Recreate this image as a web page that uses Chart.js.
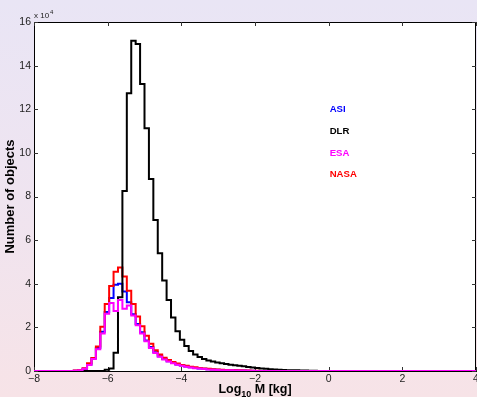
<!DOCTYPE html>
<html>
<head>
<meta charset="utf-8">
<script src="https://cdn.jsdelivr.net/npm/chart.js@4.4.1/dist/chart.umd.min.js"></script>
<style>
  html, body { margin: 0; padding: 0; }
  body {
    width: 477px;
    height: 397px;
    overflow: hidden;
    background: linear-gradient(to bottom, #e9e5f5 0%, #efe4f0 50%, #f7e3e7 100%);
  }
  canvas { display: block; }
</style>
</head>
<body>
<canvas id="massChart" width="477" height="397"></canvas>
<script>
// histogram binning in log10(mass)
const BIN_START = -8;
const BIN_WIDTH = 0.12;
const BIN_COUNT = 100;

const xTicks = [-8, -6, -4, -2, 0, 2, 4];
const yTicks = [0, 20000, 40000, 60000, 80000, 100000, 120000, 140000, 160000];

const agencies = ['ASI', 'DLR', 'ESA', 'NASA'];
const agencyColors = ['#0000ff', '#000000', '#ff00ff', '#ff0000'];

// object counts per bin, starting at bin index *First
const asiFirst = 9;
const asiCounts = [100, 300, 1000, 3000, 5800, 10500, 18000, 27000, 33500, 39500, 40000, 36500,
  31500, 26000, 21500, 17800, 14000, 11000, 8600, 6800, 5500, 4500, 3700, 3000, 2500, 2100,
  1700, 1400, 1200, 1000, 800, 700, 600, 500, 400, 300, 300, 200, 200, 100, 100];

const dlrFirst = 16;
const dlrCounts = [600, 1200, 8400, 33800, 82500, 127300, 151400, 149900, 131600, 111300, 88000,
  69200, 54000, 41500, 32500, 24500, 18200, 14300, 11500, 9200, 7600, 6400, 5500, 4800, 4300,
  3900, 3600, 3200, 2900, 2600, 2400, 2200, 1800, 1600, 1400, 1200, 1000, 800, 700, 600, 500,
  400, 300, 300, 200, 200, 100, 100];

const esaFirst = 9;
const esaCounts = [100, 300, 1000, 2800, 5500, 10000, 17200, 26200, 31200, 27500, 32500, 28500,
  30000, 25500, 21000, 17200, 13600, 10500, 8200, 6500, 5300, 4300, 3500, 2900, 2400, 2000,
  1600, 1300, 1100, 900, 700, 600, 500, 400, 300, 300, 200, 200, 100, 100];

const nasaFirst = 9;
const nasaCounts = [200, 500, 1300, 3500, 6000, 11200, 20300, 30700, 39000, 45500, 47400, 43300,
  36800, 30700, 25000, 20500, 16200, 12500, 9500, 7600, 6100, 5000, 4100, 3400, 2800, 2400,
  2000, 1700, 1400, 1200, 1000, 800, 700, 600, 500, 400, 300, 300, 200, 200, 100, 100];

const FONT = "'Liberation Sans', Arial, Helvetica, sans-serif";

// left bin edges with counts, plus the closing right edge, for a stepped outline
function binSeries(first, counts) {
  const points = [];
  for (let k = 0; k <= BIN_COUNT; k++) {
    const idx = Math.min(k, BIN_COUNT - 1) - first;
    const y = idx >= 0 && idx < counts.length ? counts[idx] : 0;
    points.push({ x: +(BIN_START + k * BIN_WIDTH).toFixed(2), y: y });
  }
  return points;
}

function makeDataset(i, points, order) {
  return {
    label: agencies[i],
    data: points,
    borderColor: agencyColors[i],
    borderWidth: 2,
    stepped: 'before',
    pointRadius: 0,
    fill: false,
    order: order
  };
}

const plotBackground = {
  id: 'plotBackground',
  beforeDraw(chart) {
    const { ctx, chartArea: a } = chart;
    ctx.save();
    ctx.fillStyle = '#ffffff';
    ctx.fillRect(a.left, a.top, a.right - a.left, a.bottom - a.top);
    ctx.restore();
  }
};

// top/right frame lines and inward tick marks on all four sides
const axesBox = {
  id: 'axesBox',
  beforeDatasetsDraw(chart) {
    const { ctx, chartArea: a, scales } = chart;
    const len = 4;
    ctx.save();
    ctx.strokeStyle = '#000000';
    ctx.lineWidth = 1;
    ctx.beginPath();
    ctx.moveTo(a.left, a.top + 0.5);
    ctx.lineTo(a.right - 0.5, a.top + 0.5);
    ctx.lineTo(a.right - 0.5, a.bottom);
    ctx.stroke();

    ctx.strokeStyle = '#333333';
    ctx.beginPath();
    xTicks.forEach(v => {
      const px = Math.round(scales.x.getPixelForValue(v)) + 0.5;
      ctx.moveTo(px, a.bottom);
      ctx.lineTo(px, a.bottom - len);
      ctx.moveTo(px, a.top);
      ctx.lineTo(px, a.top + len);
    });
    yTicks.forEach(v => {
      const py = Math.round(scales.y.getPixelForValue(v)) + 0.5;
      ctx.moveTo(a.left, py);
      ctx.lineTo(a.left + len, py);
      ctx.moveTo(a.right, py);
      ctx.lineTo(a.right - len, py);
    });
    ctx.stroke();
    ctx.restore();
  }
};

// x title with subscript, y multiplier and the text-only legend
const textOverlay = {
  id: 'textOverlay',
  afterDraw(chart) {
    const { ctx, chartArea: a, scales } = chart;
    ctx.save();
    ctx.fillStyle = '#000000';
    ctx.textBaseline = 'alphabetic';
    ctx.textAlign = 'left';

    const mainFont = 'bold 12.5px ' + FONT;
    const subFont = 'bold 9px ' + FONT;
    ctx.font = mainFont;
    const wLog = ctx.measureText('Log').width;
    const wRest = ctx.measureText(' M [kg]').width;
    ctx.font = subFont;
    const wSub = ctx.measureText('10').width;
    let x = (a.left + a.right) / 2 - (wLog + wSub + wRest) / 2;
    const base = 393;
    ctx.font = mainFont;
    ctx.fillText('Log', x, base);
    x += wLog;
    ctx.font = subFont;
    ctx.fillText('10', x, base + 4);
    x += wSub;
    ctx.font = mainFont;
    ctx.fillText(' M [kg]', x, base);

    ctx.fillStyle = '#222222';
    ctx.font = '8px ' + FONT;
    ctx.fillText('x 10', a.left, 18);
    const wx = ctx.measureText('x 10').width;
    ctx.font = '6px ' + FONT;
    ctx.fillText('4', a.left + wx + 1, 14);

    ctx.font = 'bold 9.6px ' + FONT;
    ctx.textBaseline = 'middle';
    const lx = scales.x.getPixelForValue(0) + 1;
    const legendRows = [120000, 110000, 100000, 90000];
    agencies.forEach((name, i) => {
      ctx.fillStyle = agencyColors[i];
      ctx.fillText(name, lx, scales.y.getPixelForValue(legendRows[i]));
    });
    ctx.restore();
  }
};

function createChart() {
  const datasets = [
    makeDataset(0, binSeries(asiFirst, asiCounts), 3),
    makeDataset(1, binSeries(dlrFirst, dlrCounts), 1),
    makeDataset(2, binSeries(esaFirst, esaCounts), 0),
    makeDataset(3, binSeries(nasaFirst, nasaCounts), 2)
  ];

  const config = {
    type: 'line',
    data: { datasets: datasets },
    options: {
      responsive: false,
      animation: false,
      devicePixelRatio: 1,
      layout: { padding: { top: 22, right: 1, left: 0, bottom: 0 } },
      scales: {
        x: {
          type: 'linear',
          min: -8,
          max: 4,
          afterBuildTicks: (s) => { s.ticks = xTicks.map(v => ({ value: v })); },
          afterFit: (s) => { s.height = 26; s.paddingLeft = 0; s.paddingRight = 0; },
          grid: { display: false, drawTicks: false },
          border: { display: true, color: '#000000', width: 1 },
          ticks: {
            padding: 2,
            color: '#222222',
            font: { family: FONT, size: 10.5 },
            maxRotation: 0,
            autoSkip: false,
            callback: v => (v < 0 ? '\u2212' + Math.abs(v) : String(v))
          }
        },
        y: {
          min: 0,
          max: 160000,
          afterBuildTicks: (s) => { s.ticks = yTicks.map(v => ({ value: v })); },
          afterFit: (s) => { s.width = 34; s.paddingTop = 0; s.paddingBottom = 0; },
          grid: { display: false, drawTicks: false },
          border: { display: true, color: '#000000', width: 1 },
          ticks: {
            padding: 3,
            color: '#222222',
            font: { family: FONT, size: 10.5 },
            autoSkip: false,
            callback: v => String(v / 10000)
          },
          title: {
            display: true,
            text: 'Number of objects',
            color: '#000000',
            font: { family: FONT, size: 13, weight: 'bold' },
            padding: { top: 3, bottom: 0 }
          }
        }
      },
      plugins: {
        legend: { display: false },
        tooltip: { enabled: false }
      }
    },
    plugins: [plotBackground, axesBox, textOverlay]
  };

  return new Chart(document.getElementById('massChart'), config);
}

window.massChart = createChart();
</script>
</body>
</html>
